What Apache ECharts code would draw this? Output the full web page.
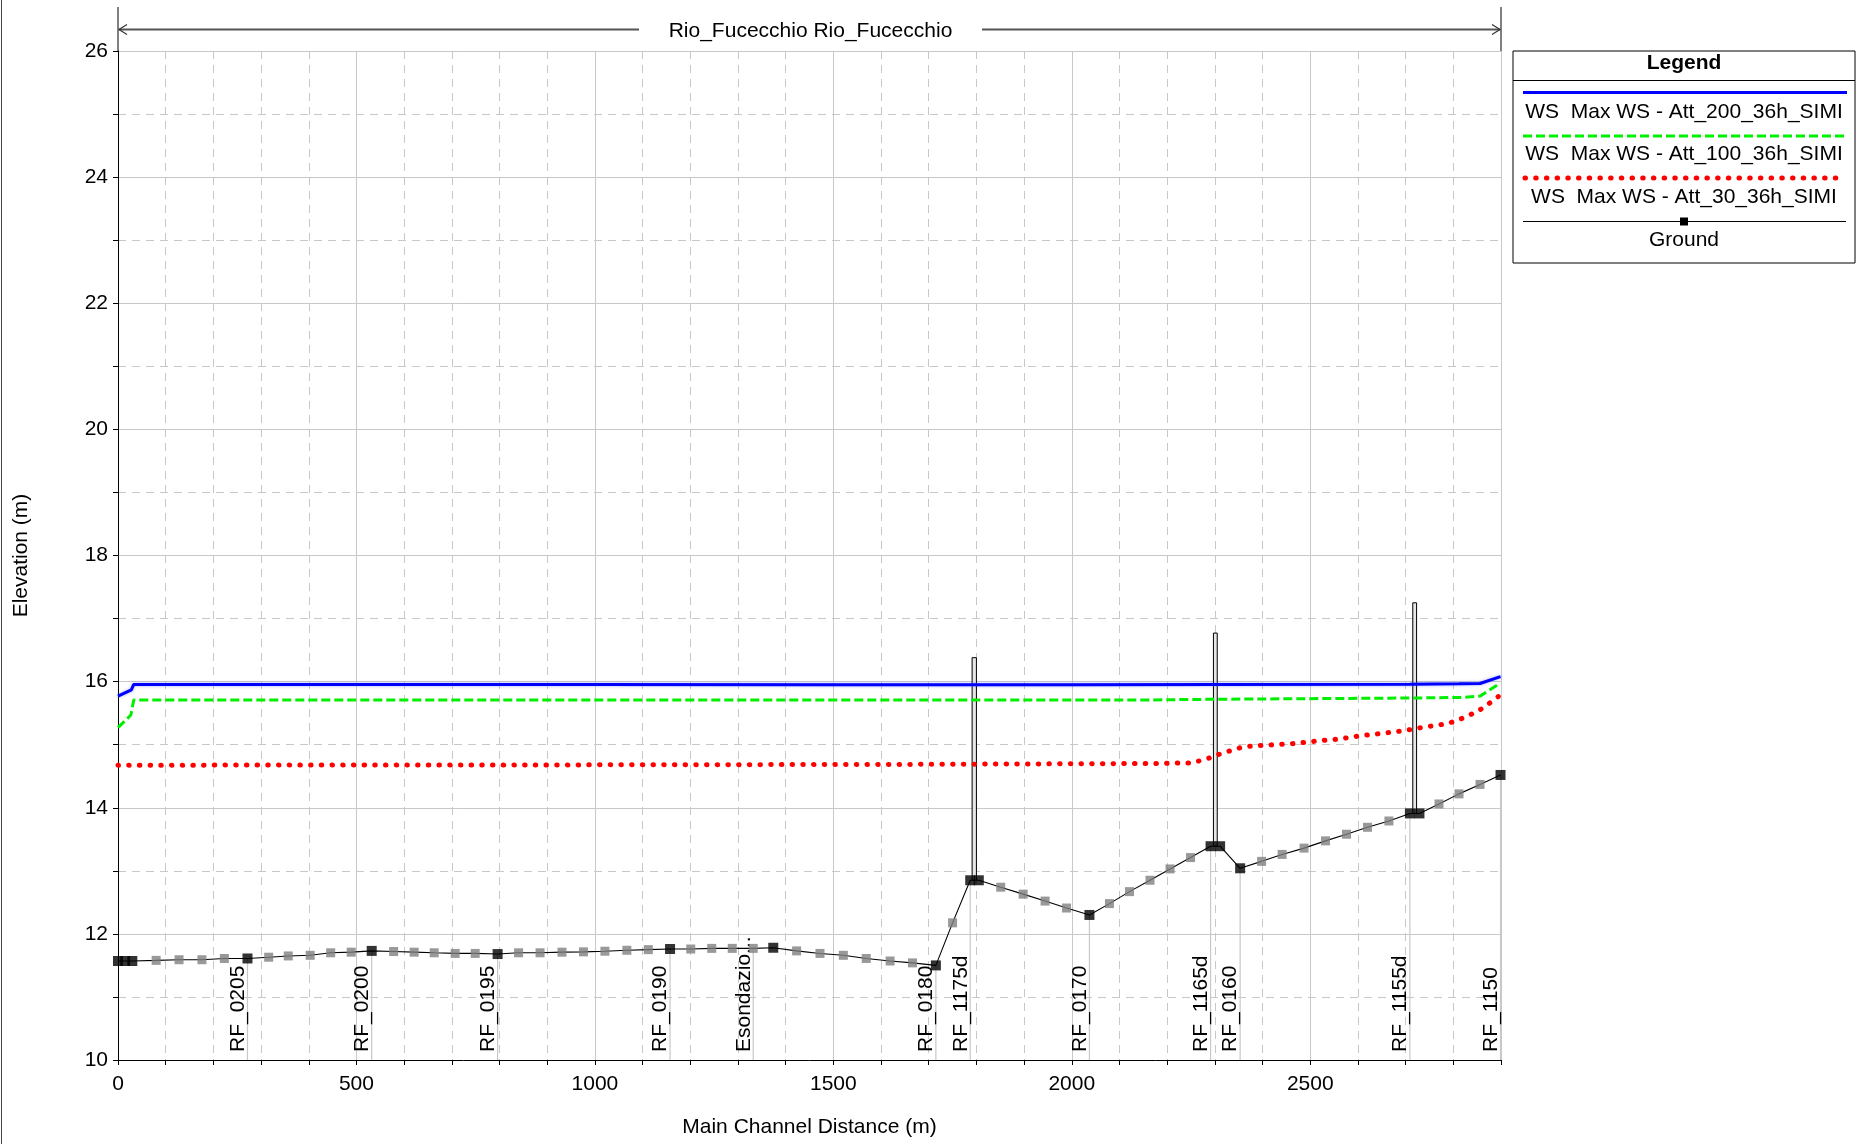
<!DOCTYPE html>
<html><head><meta charset="utf-8">
<script src="https://cdn.jsdelivr.net/npm/echarts@6/dist/echarts.min.js"></script>
<style>html,body{margin:0;padding:0;background:#fff}#c{width:1865px;height:1144px}</style>
</head><body><div id="c"></div>
<script>
const FONT = '"Liberation Sans", Arial, Helvetica, sans-serif';
const FS = 21;

// ---- Ground profile: main cross sections (black squares)
const mainStations = [0, 15, 30, 271.5, 532, 796, 1157.6, 1374, 1715, 1787, 1805, 2037, 2291, 2311, 2353, 2709, 2729, 2899];
const mainGround   = [11.57, 11.57, 11.57, 11.61, 11.73, 11.68, 11.76, 11.78, 11.50, 12.85, 12.85, 12.30, 13.39, 13.39, 13.04, 13.91, 13.91, 14.52];

// ---- Ground profile: interpolated sections (grey squares)
const interpStations = [80, 128, 176, 223, 316, 357, 403, 446, 489, 578, 621, 663, 707, 749, 840, 885, 931, 976, 1021, 1067, 1112, 1201, 1245, 1288, 1332, 1423, 1472, 1521, 1569, 1619, 1666, 1750, 1851, 1898, 1944, 1989, 2079, 2121, 2164, 2206, 2249, 2398, 2441, 2487, 2532, 2576, 2620, 2665, 2770, 2812, 2856];
const interpGround   = [11.58, 11.59, 11.59, 11.61, 11.63, 11.65, 11.66, 11.70, 11.71, 11.72, 11.71, 11.70, 11.69, 11.69, 11.70, 11.70, 11.71, 11.715, 11.725, 11.74, 11.75, 11.76, 11.77, 11.77, 11.77, 11.73, 11.69, 11.66, 11.61, 11.57, 11.54, 12.175, 12.74, 12.63, 12.52, 12.41, 12.48, 12.67, 12.85, 13.03, 13.21, 13.15, 13.26, 13.36, 13.475, 13.58, 13.69, 13.79, 14.06, 14.22, 14.37];

// ---- Water surfaces
const ws200Stations = [0, 28, 33, 500, 1000, 1500, 1787, 2000, 2300, 2709, 2812, 2856, 2899];
const ws200Elev     = [15.77, 15.87, 15.955, 15.955, 15.955, 15.95, 15.95, 15.95, 15.955, 15.96, 15.965, 15.97, 16.08];

const ws100Stations = [0, 27, 33, 1000, 1787, 2165, 2291, 2709, 2822, 2856, 2899];
const ws100Elev     = [15.27, 15.47, 15.71, 15.71, 15.71, 15.71, 15.72, 15.74, 15.75, 15.77, 15.98];

const ws30Stations = [0, 1000, 1640, 2100, 2181, 2227, 2249, 2271, 2293, 2313, 2335, 2357, 2380, 2425, 2470, 2516, 2561, 2604, 2651, 2695, 2740, 2785, 2807, 2828, 2849, 2869, 2887, 2899];
const ws30Elev     = [14.675, 14.68, 14.687, 14.70, 14.70, 14.71, 14.71, 14.75, 14.80, 14.86, 14.91, 14.96, 14.98, 15.00, 15.02, 15.06, 15.09, 15.14, 15.18, 15.22, 15.28, 15.33, 15.38, 15.45, 15.52, 15.62, 15.72, 15.79];

// ---- Bridges (deck extent)
const bridgeStart = [1791, 2297, 2715];
const bridgeEnd   = [1800, 2305, 2723];
const bridgeLow   = [12.85, 13.39, 13.91];
const bridgeHigh  = [16.38, 16.77, 17.25];

// ---- Cross-section labels
const labelNames    = ['RF_0205', 'RF_0200', 'RF_0195', 'RF_0190', 'Esondazio...', 'RF_0180', 'RF_1175d', 'RF_0170', 'RF_1165d', 'RF_0160', 'RF_1155d', 'RF_1150'];
const labelStations = [271.5, 532, 796, 1157.6, 1332, 1715, 1787, 2037, 2291, 2353, 2709, 2899];

// ---- Axes
const xMin = 0, xMax = 2900, xMajor = 500, xMinor = 100;
const yMin = 10, yMax = 26, yMajor = 2, yMinor = 1;

const legendLabels = ['WS  Max WS - Att_200_36h_SIMI', 'WS  Max WS - Att_100_36h_SIMI', 'WS  Max WS - Att_30_36h_SIMI', 'Ground'];
const reachTitle = 'Rio_Fucecchio Rio_Fucecchio';

// ---------------------------------------------------------------
const ground = mainStations.map((d, i) => [d, mainGround[i]])
  .concat(interpStations.map((d, i) => [d, interpGround[i]]))
  .sort((a, b) => a[0] - b[0]);
function groundAt(d) {
  for (let i = 0; i < ground.length; i++) if (ground[i][0] === d) return ground[i][1];
  for (let i = 1; i < ground.length; i++) {
    if (ground[i][0] >= d) {
      const a = ground[i - 1], b = ground[i];
      return a[1] + (b[1] - a[1]) * (d - a[0]) / (b[0] - a[0]);
    }
  }
  return ground[ground.length - 1][1];
}
const pairs = (xs, ys) => xs.map((x, i) => [x, ys[i]]);

const GRID = '#c8c8c8';
const chart = echarts.init(document.getElementById('c'), null, {renderer: 'canvas'});
const option = {
  animation: false,
  backgroundColor: '#fff',
  textStyle: {fontFamily: FONT},
  grid: {left: 118, top: 51, right: 364, bottom: 84, containLabel: false},
  xAxis: [
    {
      type: 'value', min: xMin, max: xMax, interval: xMinor, position: 'bottom',
      name: 'Main Channel Distance (m)', nameLocation: 'middle', nameGap: 57,
      nameTextStyle: {fontSize: FS, color: '#000', fontFamily: FONT},
      axisLine: {show: true, onZero: false, lineStyle: {color: '#000', width: 1}},
      axisTick: {show: true, length: 5, inside: false, lineStyle: {color: '#000'}},
      axisLabel: {show: true, fontSize: FS, color: '#000', margin: 14, fontFamily: FONT,
        formatter: v => (v % xMajor === 0 ? String(v) : '')},
      splitLine: {show: true, lineStyle: {color: GRID, width: 1, type: [8, 6]}}
    },
    {
      type: 'value', min: xMin, max: xMax, interval: xMajor, position: 'top',
      axisLine: {show: false}, axisTick: {show: false}, axisLabel: {show: false},
      splitLine: {show: true, lineStyle: {color: GRID, width: 1, type: 'solid'}}
    }
  ],
  yAxis: [
    {
      type: 'value', min: yMin, max: yMax, interval: yMinor, position: 'left',
      name: 'Elevation (m)', nameLocation: 'middle', nameGap: 86,
      nameTextStyle: {fontSize: FS, color: '#000', fontFamily: FONT},
      axisLine: {show: true, onZero: false, lineStyle: {color: '#000', width: 1}},
      axisTick: {show: true, length: 5, inside: false, lineStyle: {color: '#000'}},
      axisLabel: {show: true, fontSize: FS, color: '#000', margin: 10, fontFamily: FONT,
        formatter: v => (v % yMajor === 0 ? String(v) : '')},
      splitLine: {show: true, lineStyle: {color: GRID, width: 1, type: [8, 6]}}
    },
    {
      type: 'value', min: yMin, max: yMax, interval: yMajor, position: 'right',
      axisLine: {show: false}, axisTick: {show: false}, axisLabel: {show: false},
      splitLine: {show: true, lineStyle: {color: GRID, width: 1, type: 'solid'}}
    }
  ],
  series: [
    {
      name: 'labels', type: 'custom', xAxisIndex: 0, yAxisIndex: 0, z: 1, silent: true,
      data: labelStations.map(d => [d, groundAt(d)]),
      encode: {x: 0, y: 1},
      renderItem: function (params, api) {
        const d = api.value(0), e = api.value(1);
        const base = api.coord([d, yMin]);
        const top = api.coord([d, e]);
        return {
          type: 'group',
          children: [
            {type: 'line', shape: {x1: base[0], y1: base[1], x2: top[0], y2: top[1]},
             style: {stroke: GRID, lineWidth: 1.2}},
            {type: 'text', x: base[0] + 1, y: base[1] - 8, rotation: Math.PI / 2,
             style: {text: labelNames[params.dataIndex], fontSize: FS, fontFamily: FONT,
                     fill: '#000', align: 'left', verticalAlign: 'bottom'}}
          ]
        };
      }
    },
    {
      name: 'bridges', type: 'custom', xAxisIndex: 0, yAxisIndex: 0, z: 2, silent: true,
      data: bridgeStart.map((s, i) => [s, bridgeEnd[i], bridgeLow[i], bridgeHigh[i]]),
      encode: {x: [0, 1], y: [2, 3]},
      renderItem: function (params, api) {
        const p1 = api.coord([api.value(0), api.value(3)]);
        const p2 = api.coord([api.value(1), api.value(2)]);
        return {type: 'rect',
          shape: {x: p1[0], y: p1[1], width: p2[0] - p1[0], height: p2[1] - p1[1]},
          style: {fill: '#e6e6e6', stroke: '#000', lineWidth: 1}};
      }
    },
    {
      name: 'Ground', type: 'line', data: ground, symbol: 'none', z: 3,
      lineStyle: {color: '#000', width: 1.1}
    },
    {
      name: 'Ground interp', type: 'scatter', data: pairs(interpStations, interpGround), z: 4,
      symbol: 'rect', symbolSize: 9, itemStyle: {color: '#808080'}
    },
    {
      name: 'Ground main', type: 'scatter', data: pairs(mainStations, mainGround), z: 5,
      symbol: 'rect', symbolSize: 10, itemStyle: {color: '#000'}
    },
    {
      name: legendLabels[2], type: 'line', data: pairs(ws30Stations, ws30Elev), symbol: 'none', z: 6,
      lineStyle: {color: '#ff0000', width: 5, type: [0.5, 10.2], cap: 'round'}
    },
    {
      name: legendLabels[1], type: 'line', data: pairs(ws100Stations, ws100Elev), symbol: 'none', z: 7,
      lineStyle: {color: '#00ee00', width: 3, type: [9, 4]}
    },
    {
      name: legendLabels[0], type: 'line', data: pairs(ws200Stations, ws200Elev), symbol: 'none', z: 8,
      lineStyle: {color: '#0000ff', width: 3, shadowColor: 'rgba(80,80,255,0.5)', shadowBlur: 3}
    }
  ]
};
chart.setOption(option);

// ---- extra graphics: reach bracket, legend box, frame line
const xL = chart.convertToPixel({xAxisIndex: 0}, xMin);
const xR = chart.convertToPixel({xAxisIndex: 0}, xMax);
const yTop = chart.convertToPixel({yAxisIndex: 0}, yMax);
const yBr = 29.5;
const LX = 1513, LW = 342, LY = 51, LH = 212, LC = LX + LW / 2;
const tstyle = (t, x, y, extra) => Object.assign({text: t, x: x, y: y, fontSize: FS, fontFamily: FONT, fill: '#000', align: 'center', verticalAlign: 'middle'}, extra || {});
chart.setOption({
  graphic: [
    {type: 'line', shape: {x1: 1.5, y1: 0, x2: 1.5, y2: 1144}, style: {stroke: '#444', lineWidth: 1}},
    {type: 'line', shape: {x1: xL, y1: 7, x2: xL, y2: yTop}, style: {stroke: '#000', lineWidth: 1}},
    {type: 'line', shape: {x1: xR, y1: 7, x2: xR, y2: yTop}, style: {stroke: '#000', lineWidth: 1}},
    {type: 'line', shape: {x1: xL + 1, y1: yBr, x2: 639, y2: yBr}, style: {stroke: '#555', lineWidth: 2}},
    {type: 'line', shape: {x1: 982, y1: yBr, x2: xR - 1, y2: yBr}, style: {stroke: '#555', lineWidth: 2}},
    {type: 'polyline', shape: {points: [[xL + 9, yBr - 5], [xL + 1, yBr], [xL + 9, yBr + 5]]}, style: {stroke: '#333', lineWidth: 1.2, fill: null}},
    {type: 'polyline', shape: {points: [[xR - 9, yBr - 5], [xR - 1, yBr], [xR - 9, yBr + 5]]}, style: {stroke: '#333', lineWidth: 1.2, fill: null}},
    {type: 'text', style: tstyle(reachTitle, (639 + 982) / 2, yBr + 1.5)},

    {type: 'rect', shape: {x: LX, y: LY, width: LW, height: LH}, style: {fill: '#fff', stroke: '#000', lineWidth: 1}, z: 10},
    {type: 'text', style: tstyle('Legend', LC, 63.5, {fontWeight: 'bold'}), z: 11},
    {type: 'line', shape: {x1: LX, y1: 80.5, x2: LX + LW, y2: 80.5}, style: {stroke: '#000', lineWidth: 1}, z: 11},
    {type: 'line', shape: {x1: 1523, y1: 92.5, x2: 1847, y2: 92.5}, style: {stroke: '#0000ff', lineWidth: 3}, z: 11},
    {type: 'text', style: tstyle(legendLabels[0], LC, 112), z: 11},
    {type: 'line', shape: {x1: 1523, y1: 136, x2: 1847, y2: 136}, style: {stroke: '#00ee00', lineWidth: 3, lineDash: [9, 4]}, z: 11},
    {type: 'text', style: tstyle(legendLabels[1], LC, 154.5), z: 11},
    {type: 'line', shape: {x1: 1525, y1: 178, x2: 1842, y2: 178}, style: {stroke: '#ff0000', lineWidth: 5, lineDash: [0.5, 10.2], lineCap: 'round'}, z: 11},
    {type: 'text', style: tstyle(legendLabels[2], LC, 197), z: 11},
    {type: 'line', shape: {x1: 1523, y1: 221.5, x2: 1846, y2: 221.5}, style: {stroke: '#000', lineWidth: 1}, z: 11},
    {type: 'rect', shape: {x: LC - 4, y: 217.5, width: 8, height: 8}, style: {fill: '#000'}, z: 11},
    {type: 'text', style: tstyle(legendLabels[3], LC, 240), z: 11}
  ]
});
</script></body></html>
